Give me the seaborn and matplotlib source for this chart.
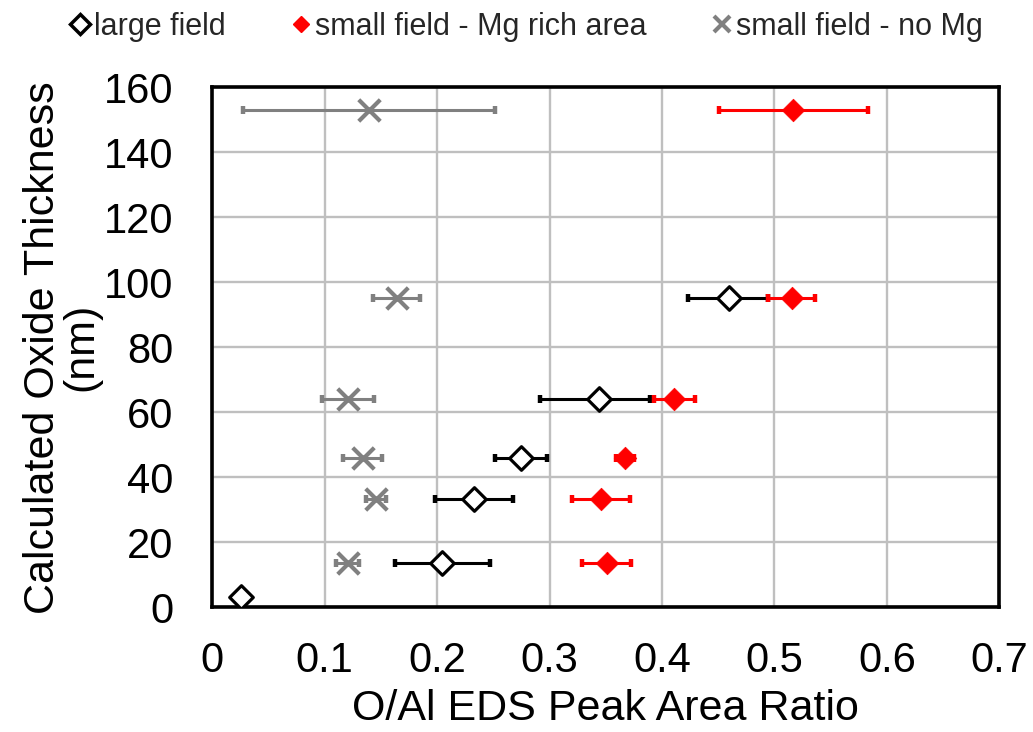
import matplotlib
matplotlib.use("Agg")
import matplotlib.pyplot as plt
from matplotlib.lines import Line2D
import seaborn as sns
import pandas as pd

# Large field measurements
large_thickness = [3.3, 13.7, 33.2, 45.8, 64.0, 95.1]
large_ratio = [0.0255, 0.2047, 0.2329, 0.2744, 0.344, 0.4593]
large_err_lo = [0.004, 0.042, 0.035, 0.023, 0.052, 0.036]
large_err_hi = [0.004, 0.042, 0.035, 0.023, 0.045, 0.035]

# Small field, Mg rich area
mg_thickness = [13.7, 33.2, 45.8, 64.0, 95.1, 153.0]
mg_ratio = [0.3508, 0.346, 0.3674, 0.411, 0.5153, 0.5167]
mg_err = [0.022, 0.026, 0.008, 0.018, 0.021, 0.066]

# Small field, no Mg
nomg_thickness = [13.7, 33.2, 45.8, 64.0, 95.1, 153.0]
nomg_ratio = [0.1206, 0.1458, 0.134, 0.1212, 0.164, 0.1398]
nomg_err = [0.010, 0.009, 0.0175, 0.023, 0.0207, 0.112]

series_names = ["large field", "small field - Mg rich area", "small field - no Mg"]
x_ticks = [0, 0.1, 0.2, 0.3, 0.4, 0.5, 0.6, 0.7]
y_ticks = [0, 20, 40, 60, 80, 100, 120, 140, 160]

sns.set_theme(style="white")
plt.rcParams["font.family"] = ["Liberation Sans", "DejaVu Sans"]

W, H = 1033, 732
fig = plt.figure(figsize=(W / 100, H / 100), dpi=100)
ax = fig.add_axes([212 / W, 1 - 607.3 / H, 787.5 / W, 520 / H])

large_df = pd.DataFrame({"ratio": large_ratio, "thickness": large_thickness})
mg_df = pd.DataFrame({"ratio": mg_ratio, "thickness": mg_thickness})
nomg_df = pd.DataFrame({"ratio": nomg_ratio, "thickness": nomg_thickness})

GRAY = "#808080"
RED = "#ff0000"
LW = 2.2

# Horizontal error bars
ax.errorbar(large_df["ratio"], large_df["thickness"], xerr=[large_err_lo, large_err_hi],
            fmt="none", ecolor="black", elinewidth=LW, capsize=3, capthick=3.2, zorder=2)
ax.errorbar(mg_df["ratio"], mg_df["thickness"], xerr=mg_err,
            fmt="none", ecolor=RED, elinewidth=LW, capsize=3, capthick=3.2, zorder=2)
ax.errorbar(nomg_df["ratio"], nomg_df["thickness"], xerr=nomg_err,
            fmt="none", ecolor=GRAY, elinewidth=LW, capsize=3, capthick=3.2, zorder=2)

# Markers
sns.scatterplot(data=nomg_df, x="ratio", y="thickness", ax=ax, marker="x",
                color=GRAY, s=15.5 ** 2, linewidth=3.0, zorder=3, legend=False)
sns.scatterplot(data=mg_df, x="ratio", y="thickness", ax=ax, marker="D",
                color=RED, edgecolor=RED, s=11.5 ** 2, linewidth=0.5, zorder=3, legend=False)
sns.scatterplot(data=large_df, x="ratio", y="thickness", ax=ax, marker="D",
                color="white", edgecolor="black", s=12 ** 2, linewidth=2.3, zorder=4, legend=False)

ax.set_xlim(0, 0.7)
ax.set_ylim(0, 160)
ax.set_xticks(x_ticks)
ax.set_xticklabels([f"{t:g}" for t in x_ticks])
ax.set_yticks(y_ticks)
ax.set_yticklabels([str(t) for t in y_ticks])

ax.set_axisbelow(True)
ax.grid(True, color="#bfbfbf", linewidth=1.7)
for sp in ax.spines.values():
    sp.set_color("black")
    sp.set_linewidth(2.6)
    sp.set_visible(True)

ax.tick_params(axis="both", which="major", direction="out", length=8, width=2.6,
               color="black", labelsize=30, labelcolor="black")
ax.tick_params(axis="x", pad=16)
ax.tick_params(axis="y", pad=20)

ax.set_xlabel("O/Al EDS Peak Area Ratio", fontsize=31, color="black")
ax.xaxis.set_label_coords(0.5, -0.158)
ax.set_ylabel("Calculated Oxide Thickness\n(nm)", fontsize=31, color="black",
              linespacing=0.95)
ax.yaxis.set_label_coords(-0.14, 0.5)

handles = [
    Line2D([], [], linestyle="none", marker="D", markersize=10.5, markerfacecolor="white",
           markeredgecolor="black", markeredgewidth=2.5),
    Line2D([], [], linestyle="none", marker="D", markersize=8.5, markerfacecolor=RED,
           markeredgecolor=RED),
    Line2D([], [], linestyle="none", marker="x", markersize=12, markeredgecolor=GRAY,
           markeredgewidth=3),
]
fig.legend(handles, series_names, loc="center", bbox_to_anchor=(0.51, 1 - 27 / H),
           ncol=3, frameon=False, fontsize=22, handlelength=0.6, handletextpad=0.15,
           columnspacing=2.17, borderpad=0)

fig.savefig("out.png", dpi=100)
